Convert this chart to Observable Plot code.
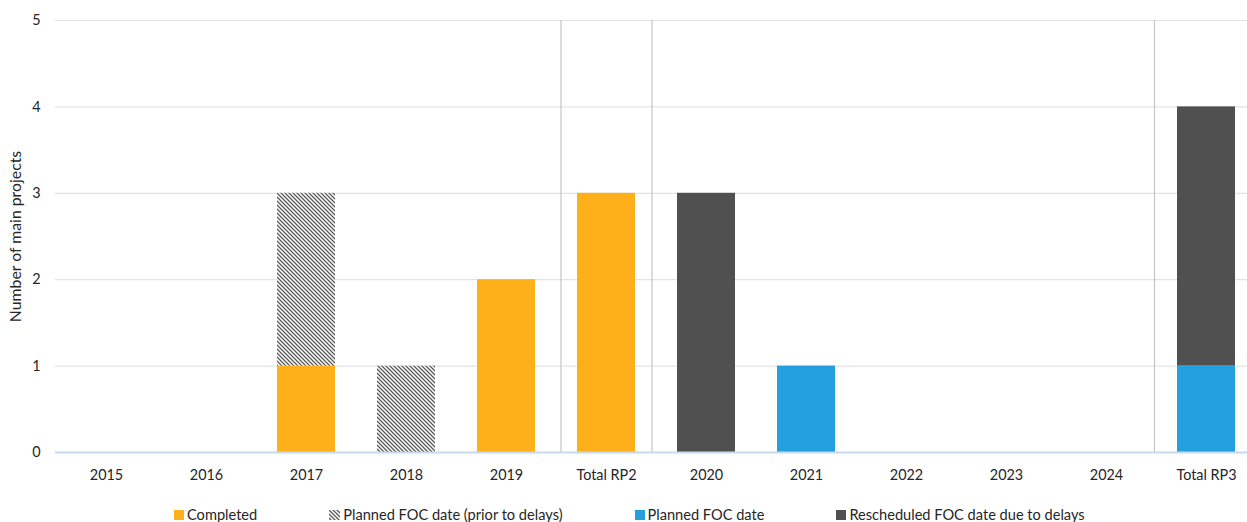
<!DOCTYPE html>
<html>
<head>
<meta charset="utf-8">
<script src="https://cdn.jsdelivr.net/npm/d3@7"></script>
<script src="https://cdn.jsdelivr.net/npm/@observablehq/plot@0.6"></script>
<style>
  html, body { margin: 0; padding: 0; background: #fff; overflow: hidden; }
  body { width: 1247px; height: 522px; font-family: Lato, "Liberation Sans", sans-serif; color: #262626; }
  #legend { display: flex; gap: 72px; padding-left: 174px; margin-top: 12px; font-size: 14.6px; line-height: 16px; }
  #legend .item { display: flex; align-items: center; gap: 3px; white-space: nowrap; }
  #legend .sw { width: 10px; height: 10px; display: inline-block; }
</style>
</head>
<body>
<div id="chart"></div>
<div id="legend"></div>
<script>
// Main projects per year and per reference period (RP2, RP3)
const categories = ["2015", "2016", "2017", "2018", "2019", "Total RP2", "2020", "2021", "2022", "2023", "2024", "Total RP3"];
const seriesNames = ["Completed", "Planned FOC date (prior to delays)", "Planned FOC date", "Rescheduled FOC date due to delays"];
const completed    = [0, 0, 1, 0, 2, 3, 0, 0, 0, 0, 0, 0];
const plannedPrior = [0, 0, 2, 1, 0, 0, 0, 0, 0, 0, 0, 0];
const plannedFOC   = [0, 0, 0, 0, 0, 0, 0, 1, 0, 0, 0, 1];
const rescheduled  = [0, 0, 0, 0, 0, 0, 3, 0, 0, 0, 0, 3];
const yTicks = [0, 1, 2, 3, 4, 5];

const seriesValues = [completed, plannedPrior, plannedFOC, rescheduled];
const seriesColors = ["#fdb019", "url(#hatch)", "#23a0dd", "#505050"];

// long format for stacking
const rows = [];
seriesNames.forEach((s, si) => {
  categories.forEach((c, ci) => rows.push({category: c, series: s, value: seriesValues[si][ci]}));
});

const W = 1247, H = 495, ML = 55, MT = 20;

const chart = Plot.plot({
  width: W,
  height: H,
  marginLeft: ML,
  marginRight: 0,
  marginTop: MT,
  marginBottom: H - 452,
  style: {fontFamily: "Lato, 'Liberation Sans', sans-serif", fontSize: "14px", color: "#262626", overflow: "visible"},
  x: {domain: categories, range: [ML, 1257], paddingInner: 0.42, paddingOuter: 0.21, align: 0.5, label: null},
  y: {domain: [0, 5], range: [452, MT]},
  color: {domain: seriesNames, range: seriesColors},
  marks: [
    Plot.ruleY(yTicks.filter(d => d > 0), {stroke: "#e3e3e3", strokeWidth: 1.2}),
    Plot.barY(rows, {x: "category", y: "value", fill: "series"}),
    // separators between the reference periods
    Plot.ruleX(["Total RP2"], {x: d => d, y1: 0, y2: 5, dx: -45.5, stroke: "#c4c4c4", strokeWidth: 1.2}),
    Plot.ruleX(["Total RP2"], {x: d => d, y1: 0, y2: 5, dx: 45.5, stroke: "#c4c4c4", strokeWidth: 1.2}),
    Plot.ruleX(["Total RP3"], {x: d => d, y1: 0, y2: 5, dx: -52, stroke: "#c4c4c4", strokeWidth: 1.2}),
    Plot.ruleY([0], {stroke: "#c6daf2", strokeWidth: 2.2}),
    Plot.axisX({tickSize: 0, tickPadding: 17, label: null, fontSize: 14.4}),
    Plot.axisY({ticks: yTicks, tickSize: 0, tickPadding: 15, tickFormat: d3.format("d"), fontSize: 14.4, label: null}),
    Plot.axisY({ticks: [], tickSize: 0, fontSize: 15.8,
      label: "Number of main projects", labelAnchor: "center", labelOffset: 46, labelArrow: "none"})
  ]
});

// hatch pattern for the "prior to delays" series
const ns = "http://www.w3.org/2000/svg";
const defs = document.createElementNS(ns, "defs");
defs.innerHTML = `
  <pattern id="hatch" patternUnits="userSpaceOnUse" width="4" height="4">
    <rect width="4" height="4" fill="#ffffff"/>
    <path d="M-1,-1 L5,5 M-1,3 L1,5 M3,-1 L5,1" stroke="#5a5a5a" stroke-width="1.3"/>
  </pattern>`;
chart.insertBefore(defs, chart.firstChild);
document.getElementById("chart").appendChild(chart);

// legend
const legend = document.getElementById("legend");
seriesNames.forEach((s, i) => {
  const item = document.createElement("div");
  item.className = "item";
  let sw;
  if (seriesColors[i].startsWith("url")) {
    sw = `<svg width="11" height="10" style="display:inline-block"><rect width="11" height="10" fill="url(#hatch)"/></svg>`;
  } else {
    sw = `<span class="sw" style="background:${seriesColors[i]}"></span>`;
  }
  item.innerHTML = sw + `<span>${s}</span>`;
  legend.appendChild(item);
});
</script>
</body>
</html>
